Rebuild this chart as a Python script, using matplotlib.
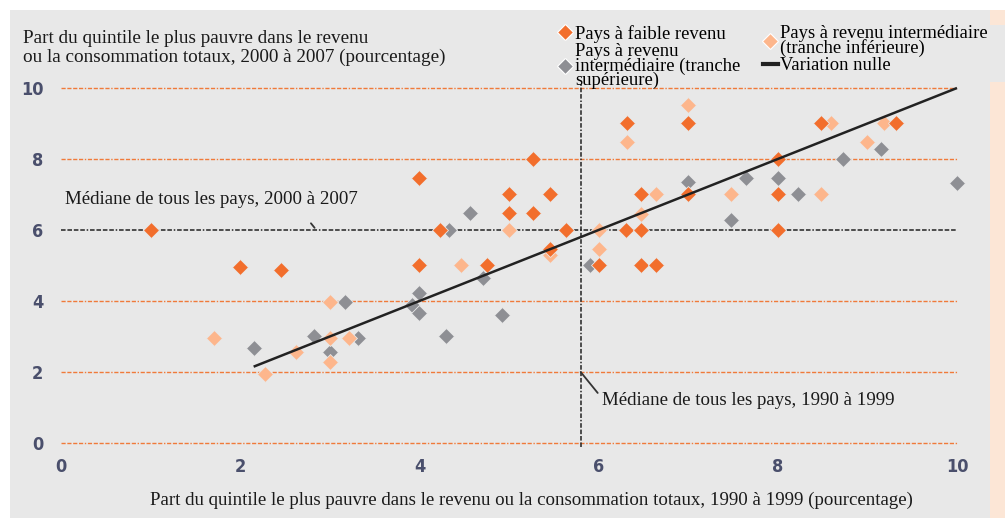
import matplotlib
matplotlib.use("Agg")
import matplotlib.pyplot as plt
from matplotlib.lines import Line2D
from matplotlib.patches import Rectangle

# part du quintile le plus pauvre: 1990-1999 (x) vs 2000-2007 (y)
faible_x = [1.0, 2.0, 2.45, 4.0, 4.0, 4.23, 4.75, 5.0, 5.0, 5.27, 5.27, 5.46, 5.46, 5.64,
            6.0, 6.32, 6.31, 6.47, 6.47, 6.47, 6.64, 7.0, 7.0, 8.0, 8.0, 8.0, 8.48, 9.32]
faible_y = [6.0, 4.97, 4.88, 7.46, 5.0, 6.0, 5.0, 7.0, 6.47, 6.47, 8.0, 7.0, 5.46, 6.0,
            5.0, 9.0, 6.0, 7.0, 6.0, 5.0, 5.0, 9.0, 7.0, 8.0, 7.0, 6.0, 9.0, 9.0]

inf_x = [1.71, 2.28, 2.62, 3.0, 3.0, 3.0, 3.21, 4.46, 5.0, 5.46, 6.0, 6.0, 6.32, 6.47,
         6.64, 7.0, 7.48, 8.48, 8.59, 9.0, 9.18]
inf_y = [2.97, 1.95, 2.56, 3.96, 2.97, 2.27, 2.97, 5.0, 6.0, 5.3, 6.0, 5.46, 8.48, 6.45,
         7.0, 9.52, 7.0, 7.0, 9.0, 8.48, 9.0]

sup_x = [2.15, 2.82, 3.0, 3.17, 3.31, 3.92, 4.0, 4.0, 4.3, 4.33, 4.56, 4.71, 4.92, 5.9,
         7.0, 7.65, 8.0, 7.48, 8.22, 8.73, 9.15, 10.0]
sup_y = [2.68, 3.0, 2.55, 3.96, 2.97, 3.9, 4.22, 3.66, 3.0, 6.0, 6.47, 4.65, 3.6, 5.0,
         7.35, 7.46, 7.46, 6.28, 7.0, 8.0, 8.28, 7.33]

nulle_x = [2.15, 10.0]
mediane_2000 = 6.0
mediane_1990 = 5.8
grille_y = [0, 2, 4, 8, 10]
ticks = [0, 2, 4, 6, 8, 10]

c_faible = "#f26e2c"
c_inf = "#fdb68c"
c_sup = "#8e8f94"
c_grid = "#f07a3a"
c_tick = "#4a4f6c"

serif = ["Liberation Serif", "DejaVu Serif"]

fig = plt.figure(figsize=(10.05, 5.18), dpi=100, facecolor="white")
# fond gris + bande claire a droite
fig.patches.append(Rectangle((10/1005, 0), 980/1005, 508/518, transform=fig.transFigure,
                             facecolor="#e8e8e8", edgecolor="none", zorder=-10))
fig.patches.append(Rectangle((990/1005, 0), 15/1005, 508/518, transform=fig.transFigure,
                             facecolor="#fce6d6", edgecolor="none", zorder=-10))
fig.patches.append(Rectangle((990/1005, 436/518), 15/1005, 57/518, transform=fig.transFigure,
                             facecolor="#e8e8e8", edgecolor="none", zorder=-9))

ax = fig.add_axes([0.04732, 0.12423, 0.91829, 0.72645])
ax.set_facecolor("none")
ax.set_xlim(-0.15, 10.15)
ax.set_ylim(-0.3, 10.3)
for s in ax.spines.values():
    s.set_visible(False)

dashdot = (0, (3, 1.2, 3, 1.2, 3, 1.2, 3, 1.2, 1, 1.2))
for g in grille_y:
    ax.plot([0, 10], [g, g], color=c_grid, lw=1.0, ls=dashdot, zorder=1)
ax.plot([0, 10], [mediane_2000, mediane_2000], color="#222222", lw=1.1, ls=dashdot, zorder=1)
ax.plot([mediane_1990, mediane_1990], [-0.1, 10.1], color="#222222", lw=1.1, ls=dashdot, zorder=1)

ax.scatter(sup_x, sup_y, marker="D", s=66, color=c_sup, edgecolors="#e8e8e8", linewidths=0.6, zorder=3, clip_on=False)
ax.scatter(inf_x, inf_y, marker="D", s=66, color=c_inf, edgecolors="#e8e8e8", linewidths=0.6, zorder=4, clip_on=False)
ax.scatter(faible_x, faible_y, marker="D", s=66, color=c_faible, edgecolors="#e8e8e8", linewidths=0.6, zorder=5, clip_on=False)
ax.plot(nulle_x, nulle_x, color="#222222", lw=1.8, zorder=6, solid_capstyle="butt")

ax.set_xticks(ticks)
ax.set_yticks(ticks)
ax.tick_params(length=0, labelsize=13, labelcolor=c_tick, pad=3)
for lab in ax.get_xticklabels() + ax.get_yticklabels():
    lab.set_family("DejaVu Sans")
    lab.set_fontstretch("condensed")
    lab.set_fontweight("bold")

# annotations des medianes
ax.text(0.05, 6.85, "Médiane de tous les pays, 2000 à 2007", family=serif, fontsize=13.6,
        color="#1a1a1a", va="center", ha="left")
ax.annotate("", xy=(2.85, 6.0), xytext=(2.77, 6.25),
            arrowprops=dict(arrowstyle="-", color="#333333", lw=1.3))
ax.annotate("", xy=(mediane_1990, 2.0), xytext=(5.99, 1.41),
            arrowprops=dict(arrowstyle="-", color="#333333", lw=1.3, shrinkA=0, shrinkB=0))
ax.text(6.04, 1.2, "Médiane de tous les pays, 1990 à 1999", family=serif, fontsize=13.6,
        color="#1a1a1a", va="center", ha="left")

fig.text(23/1005, 1 - 48/518, "Part du quintile le plus pauvre dans le revenu\nou la consommation totaux, 2000 à 2007 (pourcentage)",
         family=serif, fontsize=13.8, color="#1a1a1a", va="center", ha="left", linespacing=1.2)
fig.text(531/1005, 1 - 500/518, "Part du quintile le plus pauvre dans le revenu ou la consommation totaux, 1990 à 1999 (pourcentage)",
         family=serif, fontsize=13.6, color="#1a1a1a", va="center", ha="center")

# legende en deux colonnes independantes
h_faible = Line2D([], [], ls="none", marker="D", ms=8, color=c_faible, mec="white", mew=0.8)
h_sup = Line2D([], [], ls="none", marker="D", ms=8, color=c_sup, mec="white", mew=0.8)
h_inf = Line2D([], [], ls="none", marker="D", ms=8, color=c_inf, mec="white", mew=0.8)
h_nulle = Line2D([], [], color="#222222", lw=3)
leg_kw = dict(loc="upper left", frameon=False, prop={"family": serif, "size": 13.4},
              handlelength=0.8, handletextpad=0.1, labelspacing=0.0, borderpad=0, borderaxespad=0)
leg1 = fig.legend([h_faible, h_sup], ["Pays à faible revenu", "Pays à revenu\nintermédiaire (tranche\nsupérieure)"],
                  bbox_to_anchor=(558/1005, 1 - 25/518), **leg_kw)
leg2 = fig.legend([h_inf, h_nulle], ["Pays à revenu intermédiaire\n(tranche inférieure)", "Variation nulle"],
                  bbox_to_anchor=(763/1005, 1 - 25/518), **leg_kw)
for leg in (leg1, leg2):
    for t in leg.get_texts():
        t.set_linespacing(0.8)

fig.savefig("out.png", dpi=100, facecolor="white")
